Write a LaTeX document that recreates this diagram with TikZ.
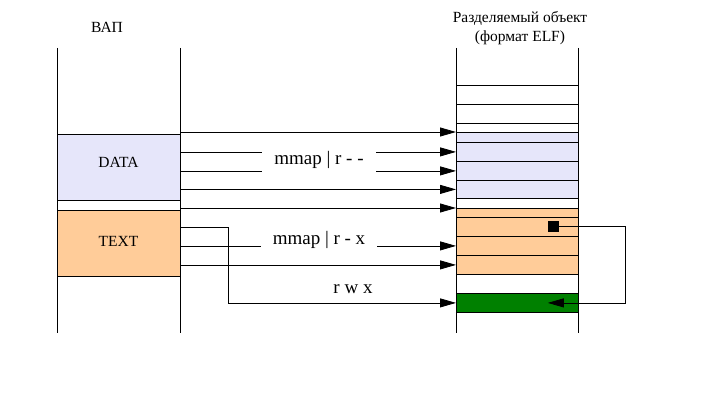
\documentclass[tikz,border=0pt]{standalone}
\usepackage{fontspec}
\setmainfont{Liberation Serif}
\usetikzlibrary{arrows.meta}
\definecolor{datablue}{RGB}{230,230,250}
\definecolor{textorange}{RGB}{255,204,153}
\definecolor{rwxgreen}{RGB}{0,128,0}
\begin{document}
\begin{tikzpicture}[x=1pt,y=-1pt]
			\tikzstyle{col}=[line width=0.8pt]
			\tikzstyle{map}=[line width=0.8pt,-{Triangle[length=16pt,width=9pt]}]
			\tikzstyle{small}=[font=\fontsize{15.5}{19}\selectfont]
			\tikzstyle{big}=[font=\fontsize{19}{22}\selectfont]
			\tikzstyle{seg}=[draw=black,line width=0.8pt,minimum width=122pt,inner sep=0pt,anchor=north west]
			\useasboundingbox (0,0) rectangle (707,404);
			
			% titles
			\node[small] (vap) at (107,27) {ВАП};
			\node[small,align=center] (obj) at (520,28.5) {Разделяемый объект\\(формат ELF)};
			
			% address space
			\node[seg,fill=datablue,minimum width=123pt,minimum height=66pt] (DATA) at (57,134) {};
			\node[seg,fill=textorange,minimum width=123pt,minimum height=66pt] (TEXT) at (57,210) {};
			\node[small] at (118.5,162) {DATA};
			\node[small] at (118.5,241) {TEXT};
			\draw[col] (57,48) -- (57,333);
			\draw[col] (180,48) -- (180,333);
			\coordinate (vr) at (180,0);
			
			% shared object
			\foreach \n/\t/\h/\c in {r1/85/19/white, r2/104/19/white, r3/123/9/white,
				b1/132/10/datablue, b2/142/19/datablue, b3/161/19/datablue, b4/180/18/datablue,
				r4/198/10/white, o1/208/9/textorange, o2/217/19/textorange, o3/236/19/textorange,
				o4/255/19/textorange, r5/274/19/white, g/293/19/rwxgreen}
				\node[seg,fill=\c,minimum height=\h pt] (\n) at (456,\t) {};
			\draw[col] (456,48) -- (456,333);
			\draw[col] (578,48) -- (578,333);
			\node[fill=black,minimum size=11pt,inner sep=0pt] (sq) at (553.5,226.5) {};
			
			% mappings
			\draw[map] (vr |- b1.north west) -- (b1.north west);
			\draw[map] (vr |- b2.west) -- (b2.west);
			\draw[map] (vr |- b3.west) -- (b3.west);
			\draw[map] (vr |- b4.west) -- (b4.west);
			\draw[map] (vr |- o1.north west) -- (o1.north west);
			\draw[map] (vr |- o3.west) -- (o3.west);
			\draw[map] (vr |- o4.west) -- (o4.west);
			\draw[map] (vr |- o2.west) -- ++(48,0) |- (g.west);
			\draw[map] (sq.east) -- ++(66,0) |- (sq.west |- g.west);
			
			\node[big,fill=white,inner xsep=12pt] (ro) at (319,160) {mmap | r - -};
			\node[big,fill=white,inner xsep=12pt] (rx) at (319,240) {mmap | r - x};
			\node[big] (rwx) at (353,289) {r w x};
\end{tikzpicture}
\end{document}
